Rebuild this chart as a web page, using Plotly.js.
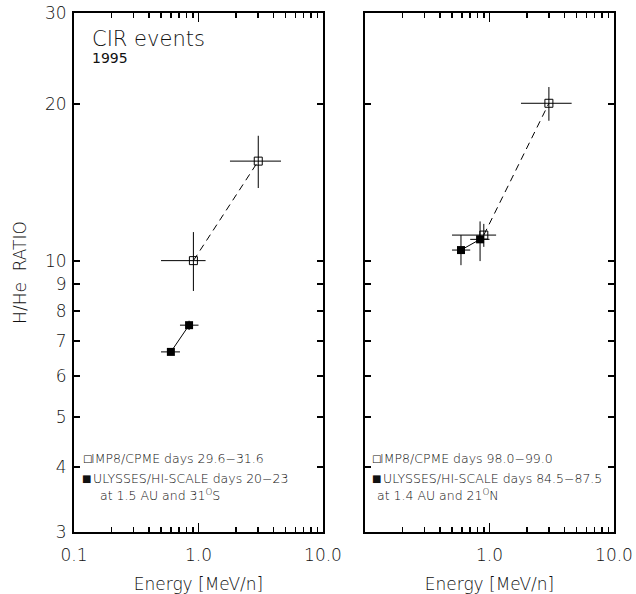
<!DOCTYPE html>
<html><head><meta charset="utf-8">
<script src="https://cdn.plot.ly/plotly-3.0.1.min.js"></script>
<style>body{margin:0;padding:0;background:#fff}</style>
</head><body><div id="chart" style="width:636px;height:594px"></div>
<script>
// ---- Left panel data ----
const impLeftE      = [0.91, 3.02];
const impLeftR      = [10.0, 15.55];
const impLeftEplus  = [0.23, 1.58];
const impLeftEminus = [0.41, 1.23];
const impLeftRplus  = [1.35, 1.85];
const impLeftRminus = [1.26, 1.75];

const ulyLeftE      = [0.60, 0.84];
const ulyLeftR      = [6.67, 7.51];
const ulyLeftEplus  = [0.11, 0.16];
const ulyLeftEminus = [0.10, 0.13];
const ulyLeftRplus  = [0.05, 0.15];
const ulyLeftRminus = [0.05, 0.16];

// ---- Right panel data ----
const impRightE      = [0.90, 3.0];
const impRightR      = [11.2, 20.1];
const impRightEplus  = [0.23, 1.57];
const impRightEminus = [0.40, 1.21];
const impRightRplus  = [0.57, 1.5];
const impRightRminus = [0.57, 1.5];

const ulyRightE      = [0.59, 0.84];
const ulyRightR      = [10.48, 10.99];
const ulyRightEplus  = [0.11, 0.16];
const ulyRightEminus = [0.09, 0.14];
const ulyRightRplus  = [0.72, 0.91];
const ulyRightRminus = [0.68, 1.01];

// ---- Tick labels ----
const yTickVals = [3,4,5,6,7,8,9,10,20,30];
const yTickText = ['3','4','5','6','7','8','9','10','20','30'];
const xTickValsLeft = [0.1, 1, 10];
const xTickTextLeft = ['0.1','1.0','10.0'];
const xTickValsRight = [1, 10];
const xTickTextRight = ['1.0','10.0'];
const xMinorVals = [0.2,0.3,0.4,0.5,0.6,0.7,0.8,0.9,2,3,4,5,6,7,8,9];

const FONT = 'DejaVu Sans, sans-serif';
const TXT = '#111';
const W = 200;

function errX(p, m){ return {type:'data', symmetric:false, array:p, arrayminus:m, color:'#000', thickness:1, width:0}; }

const traces = [
  {x: impLeftE, y: impLeftR, xaxis:'x', yaxis:'y', mode:'lines+markers', type:'scatter',
   line:{color:'#000', width:1, dash:'7px,5px'},
   marker:{symbol:'square-open', size:8, color:'#000', line:{width:1}},
   error_x: errX(impLeftEplus, impLeftEminus), error_y: errX(impLeftRplus, impLeftRminus)},
  {x: ulyLeftE, y: ulyLeftR, xaxis:'x', yaxis:'y', mode:'lines+markers', type:'scatter',
   line:{color:'#000', width:1},
   marker:{symbol:'square', size:8, color:'#000'},
   error_x: errX(ulyLeftEplus, ulyLeftEminus), error_y: errX(ulyLeftRplus, ulyLeftRminus)},
  {x: impRightE, y: impRightR, xaxis:'x2', yaxis:'y2', mode:'lines+markers', type:'scatter',
   line:{color:'#000', width:1, dash:'7px,5px'},
   marker:{symbol:'square-open', size:8, color:'#000', line:{width:1}},
   error_x: errX(impRightEplus, impRightEminus), error_y: errX(impRightRplus, impRightRminus)},
  {x: ulyRightE, y: ulyRightR, xaxis:'x2', yaxis:'y2', mode:'lines+markers', type:'scatter',
   line:{color:'#000', width:1},
   marker:{symbol:'square', size:8, color:'#000'},
   error_x: errX(ulyRightEplus, ulyRightEminus), error_y: errX(ulyRightRplus, ulyRightRminus)}
];

const yr = [Math.log10(3), Math.log10(30)];
const xr = [-1, 1];

function xAxis(domain, tv, tt, anchor){
  return {type:'log', range:xr, domain:domain, anchor:anchor,
    tickmode:'array', tickvals:tv, ticktext:tt, ticks:'inside', ticklen:9, tickwidth:1.5, tickcolor:'#000',
    ticklabelstandoff:7,
    minor:{tickmode:'array', tickvals:xMinorVals, ticks:'inside', ticklen:5, tickwidth:1.5, tickcolor:'#000', showgrid:false},
    showline:true, linewidth:2, linecolor:'#000', mirror:'ticks', showgrid:false, zeroline:false,
    tickfont:{family:FONT, size:17, color:TXT, weight:W},
    title:{text:'Energy [MeV/n]', font:{family:FONT, size:17, color:TXT, weight:W}, standoff:14}};
}
function yAxis(anchor, labels, title){
  const a = {type:'log', range:yr, anchor:anchor, domain:[0,1],
    tickmode:'array', tickvals:yTickVals, ticktext:yTickText, ticks:'inside', ticklen:6, tickwidth:2, tickcolor:'#000',
    showticklabels:labels, ticklabelstandoff:2,
    showline:true, linewidth:2, linecolor:'#000', mirror:'ticks', showgrid:false, zeroline:false,
    tickfont:{family:FONT, size:17, color:TXT, weight:W}};
  if (title) a.title = {text:'H/He  RATIO', font:{family:FONT, size:17, color:TXT, weight:W}, standoff:14};
  return a;
}
function yLong(anchor, over){
  return {type:'log', range:yr, anchor:anchor, overlaying:over, domain:[0,1],
    tickmode:'array', tickvals:[10], ticks:'inside', ticklen:13, tickwidth:2, tickcolor:'#000',
    showticklabels:false, showline:true, linewidth:2, linecolor:'#000', mirror:'ticks', showgrid:false, zeroline:false};
}

const ann = (xref, yref, x, y, text, size, w) => ({xref, yref, x, y, text, showarrow:false,
  xanchor:'left', yanchor:'middle', borderpad:0, font:{family:FONT, size:size, color:TXT, weight:(w===undefined?W:w)}});

const LS = 12.5;
const layout = {
  width:636, height:594, margin:{l:74, r:22, t:13, b:62},
  paper_bgcolor:'#fff', plot_bgcolor:'#fff', showlegend:false,
  xaxis: xAxis([0, 0.4611], xTickValsLeft, xTickTextLeft, 'y'),
  xaxis2: xAxis([0.5389, 1], xTickValsRight, xTickTextRight, 'y2'),
  yaxis: yAxis('x', true, true),
  yaxis2: yAxis('x2', false, false),
  yaxis3: yLong('x', 'y'),
  yaxis4: yLong('x2', 'y2'),
  annotations: [
    ann('x domain','y domain', 0.068, 0.95, 'CIR events', 21),
    ann('x domain','y domain', 0.07, 0.913, '1995', 14, 'normal'),
    // left legend
    ann('x domain','y domain', 0.034, 0.1407, '□', 10, 'normal'),
    ann('x domain','y domain', 0.064, 0.1407, 'IMP8/CPME days 29.6−31.6', LS),
    ann('x domain','y domain', 0.030, 0.104, '■', 10, 'normal'),
    ann('x domain','y domain', 0.074, 0.104, 'ULYSSES/HI-SCALE days 20−23', LS),
    ann('x domain','y domain', 0.102, 0.072, 'at 1.5 AU and 31<sup>O</sup>S', LS),
    // right legend
    ann('x2 domain','y2 domain', 0.026, 0.1407, '□', 10, 'normal'),
    ann('x2 domain','y2 domain', 0.056, 0.1407, 'IMP8/CPME days 98.0−99.0', LS),
    ann('x2 domain','y2 domain', 0.026, 0.104, '■', 10, 'normal'),
    ann('x2 domain','y2 domain', 0.068, 0.104, 'ULYSSES/HI-SCALE days 84.5−87.5', LS),
    ann('x2 domain','y2 domain', 0.045, 0.072, 'at 1.4 AU and 21<sup>O</sup>N', LS)
  ]
};

Plotly.newPlot('chart', traces, layout, {displayModeBar:false, staticPlot:true});
</script></body></html>
